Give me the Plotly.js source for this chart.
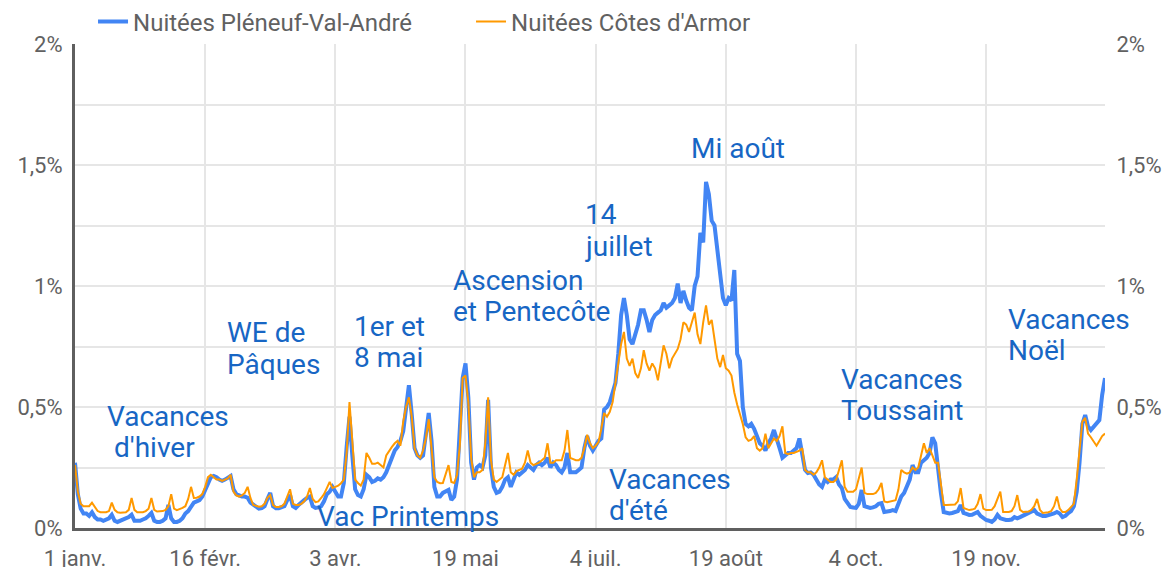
<!DOCTYPE html>
<html>
<head>
<meta charset="utf-8">
<script src="https://cdn.plot.ly/plotly-3.0.1.min.js"></script>
<style>
  html, body { margin: 0; padding: 0; background: #ffffff; }
  #chart { width: 1168px; height: 567px; }
</style>
</head>
<body>
<div id="chart"></div>
<script>
// Daily share of yearly overnight stays (%), starting 1 January
const startDate = "2019-01-01";

const pleneuf = [
  0.27,0.14,0.08,0.06,0.06,0.05,0.065,
  0.045,0.035,0.035,0.03,0.035,0.04,0.055,
  0.03,0.025,0.03,0.035,0.04,0.045,0.055,
  0.03,0.03,0.03,0.035,0.04,0.05,0.062,
  0.03,0.025,0.025,0.03,0.04,0.095,0.04,
  0.025,0.025,0.03,0.04,0.06,0.07,0.09,
  0.105,0.11,0.115,0.13,0.157,0.19,0.21,
  0.215,0.21,0.2,0.195,0.2,0.21,0.215,
  0.16,0.14,0.135,0.13,0.13,0.125,0.105,
  0.095,0.085,0.08,0.082,0.09,0.12,0.145,
  0.09,0.082,0.082,0.085,0.09,0.115,0.136,
  0.09,0.083,0.095,0.107,0.115,0.124,0.13,
  0.09,0.083,0.085,0.09,0.11,0.14,0.15,
  0.17,0.15,0.13,0.13,0.186,0.335,0.46,
  0.3,0.16,0.136,0.13,0.16,0.22,0.21,
  0.19,0.195,0.205,0.2,0.21,0.23,0.26,
  0.29,0.32,0.335,0.36,0.4,0.5,0.59,
  0.47,0.33,0.3,0.29,0.3,0.38,0.475,
  0.36,0.17,0.13,0.13,0.145,0.15,0.157,
  0.116,0.13,0.2,0.4,0.62,0.68,0.54,
  0.27,0.2,0.25,0.26,0.25,0.3,0.53,
  0.25,0.17,0.145,0.15,0.17,0.2,0.21,
  0.17,0.2,0.23,0.22,0.23,0.24,0.26,
  0.25,0.24,0.26,0.27,0.26,0.27,0.29,
  0.25,0.27,0.26,0.24,0.23,0.25,0.31,
  0.23,0.23,0.23,0.24,0.25,0.33,0.38,
  0.34,0.32,0.34,0.36,0.37,0.49,0.5,
  0.52,0.56,0.6,0.72,0.88,0.95,0.88,
  0.78,0.76,0.8,0.84,0.9,0.9,0.86,
  0.81,0.86,0.88,0.89,0.9,0.93,0.91,
  0.92,0.93,0.95,1.01,0.93,0.98,0.94,
  0.91,0.9,1.0,1.04,1.22,1.18,1.43,
  1.38,1.27,1.25,1.16,1.05,0.95,0.92,
  0.95,0.94,1.066,0.72,0.69,0.5,0.43,
  0.42,0.43,0.41,0.38,0.35,0.34,0.32,
  0.35,0.37,0.405,0.36,0.33,0.29,0.3,
  0.31,0.31,0.32,0.33,0.37,0.3,0.24,
  0.227,0.23,0.22,0.2,0.18,0.17,0.2,
  0.19,0.2,0.2,0.21,0.18,0.165,0.12,
  0.1,0.087,0.085,0.083,0.1,0.157,0.09,
  0.087,0.083,0.085,0.09,0.1,0.103,0.066,
  0.066,0.07,0.074,0.07,0.1,0.13,0.145,
  0.17,0.2,0.26,0.23,0.23,0.27,0.28,
  0.29,0.31,0.375,0.35,0.24,0.145,0.066,
  0.062,0.06,0.062,0.065,0.07,0.095,0.062,
  0.058,0.054,0.055,0.06,0.066,0.05,0.04,
  0.033,0.03,0.025,0.035,0.054,0.04,0.035,
  0.033,0.033,0.035,0.045,0.04,0.045,0.05,
  0.055,0.06,0.065,0.074,0.06,0.054,0.05,
  0.05,0.052,0.054,0.06,0.066,0.06,0.045,
  0.05,0.062,0.07,0.09,0.15,0.27,0.43,
  0.467,0.42,0.405,0.42,0.43,0.446,0.55,
  0.62
];

const cotesArmor = [
  0.26,0.15,0.10,0.09,0.09,0.09,0.105,
  0.085,0.07,0.065,0.065,0.065,0.07,0.105,
  0.075,0.065,0.063,0.063,0.065,0.075,0.124,
  0.075,0.065,0.065,0.065,0.07,0.08,0.124,
  0.075,0.068,0.068,0.07,0.075,0.09,0.14,
  0.08,0.074,0.078,0.083,0.09,0.12,0.17,
  0.124,0.125,0.13,0.14,0.17,0.21,0.22,
  0.21,0.2,0.2,0.195,0.2,0.205,0.22,
  0.15,0.135,0.13,0.135,0.145,0.17,0.124,
  0.095,0.09,0.088,0.09,0.1,0.125,0.136,
  0.095,0.087,0.087,0.09,0.1,0.13,0.16,
  0.1,0.095,0.095,0.1,0.11,0.13,0.165,
  0.12,0.107,0.11,0.124,0.14,0.165,0.19,
  0.165,0.17,0.175,0.185,0.2,0.31,0.52,
  0.36,0.2,0.186,0.175,0.2,0.31,0.29,
  0.265,0.265,0.27,0.26,0.25,0.3,0.32,
  0.335,0.35,0.36,0.34,0.44,0.5,0.54,
  0.46,0.33,0.3,0.29,0.32,0.37,0.45,
  0.32,0.21,0.19,0.185,0.186,0.22,0.26,
  0.19,0.186,0.22,0.34,0.62,0.63,0.52,
  0.29,0.21,0.23,0.23,0.24,0.35,0.54,
  0.28,0.2,0.19,0.2,0.21,0.26,0.31,
  0.23,0.22,0.235,0.24,0.245,0.27,0.32,
  0.27,0.26,0.265,0.27,0.28,0.29,0.35,
  0.27,0.27,0.28,0.28,0.28,0.32,0.405,
  0.29,0.285,0.28,0.28,0.29,0.33,0.385,
  0.35,0.33,0.34,0.355,0.41,0.475,0.46,
  0.48,0.52,0.6,0.68,0.76,0.81,0.7,
  0.67,0.7,0.64,0.62,0.66,0.735,0.68,
  0.65,0.68,0.66,0.61,0.68,0.755,0.72,
  0.66,0.7,0.72,0.74,0.78,0.85,0.84,
  0.81,0.85,0.89,0.8,0.76,0.85,0.92,
  0.84,0.86,0.78,0.7,0.665,0.715,0.66,
  0.65,0.63,0.56,0.51,0.47,0.43,0.375,
  0.36,0.365,0.38,0.33,0.32,0.33,0.39,
  0.33,0.35,0.37,0.36,0.38,0.42,0.31,
  0.305,0.31,0.31,0.315,0.32,0.33,0.24,
  0.23,0.23,0.22,0.23,0.25,0.28,0.21,
  0.2,0.19,0.19,0.2,0.24,0.28,0.17,
  0.15,0.15,0.15,0.16,0.2,0.25,0.145,
  0.14,0.14,0.14,0.145,0.16,0.186,0.11,
  0.107,0.11,0.11,0.115,0.16,0.24,0.23,
  0.225,0.23,0.25,0.24,0.25,0.3,0.35,
  0.31,0.33,0.3,0.27,0.27,0.186,0.095,
  0.095,0.095,0.095,0.097,0.11,0.165,0.083,
  0.078,0.074,0.076,0.08,0.1,0.14,0.08,
  0.074,0.074,0.075,0.09,0.12,0.15,0.066,
  0.066,0.066,0.07,0.09,0.136,0.075,0.066,
  0.066,0.068,0.075,0.09,0.12,0.075,0.062,
  0.062,0.065,0.07,0.09,0.13,0.08,0.066,
  0.066,0.074,0.085,0.1,0.2,0.33,0.44,
  0.455,0.39,0.375,0.36,0.34,0.36,0.38,
  0.39
];

const xTickDates = ["2019-01-01","2019-02-16","2019-04-03","2019-05-19","2019-07-04","2019-08-19","2019-10-04","2019-11-19"];
const xTickLabels = ["1 janv.","16 févr.","3 avr.","19 mai","4 juil.","19 août","4 oct.","19 nov."];
const yTickVals = [0,0.25,0.5,0.75,1,1.25,1.5,1.75,2];
const yTickLabels = ["0%","","0,5%","","1%","","1,5%","","2%"];

// dates for each daily value
const dates = pleneuf.map(function (_, i) {
  const d = new Date(startDate + "T00:00:00Z");
  d.setUTCDate(d.getUTCDate() + i);
  return d.toISOString().slice(0, 10);
});

const tickGray = "#616161";
const annColor = "#1766c4";
const font = "Roboto, Arial, sans-serif";

const traces = [
  {
    x: dates, y: pleneuf, type: "scatter", mode: "lines",
    name: "Nuitées Pléneuf-Val-André",
    line: { color: "#4285f4", width: 4 },
    xaxis: "x", yaxis: "y"
  },
  {
    x: dates, y: cotesArmor, type: "scatter", mode: "lines",
    name: "Nuitées Côtes d'Armor",
    line: { color: "#ff9900", width: 2 },
    xaxis: "x", yaxis: "y2"
  }
];

function ann(text, x, y) {
  return {
    text: text, x: x, y: y, xref: "x", yref: "y",
    xanchor: "left", yanchor: "middle", align: "left",
    xshift: -3,
    showarrow: false,
    font: { family: font, size: 28, color: annColor }
  };
}

const layout = {
  width: 1168, height: 567,
  margin: { l: 75, r: 63, t: 44, b: 39, pad: 0, autoexpand: false },
  paper_bgcolor: "#ffffff", plot_bgcolor: "#ffffff",
  font: { family: font, size: 22, color: tickGray },
  showlegend: true,
  legend: {
    orientation: "h", x: 0.0175, xanchor: "left", y: 1.0455, yanchor: "middle",
    font: { family: font, size: 24, color: tickGray },
    entrywidth: 333, entrywidthmode: "pixels",
    bgcolor: "rgba(0,0,0,0)"
  },
  xaxis: {
    type: "date",
    range: ["2019-01-01", "2019-12-31"],
    tickmode: "array", tickvals: xTickDates, ticktext: xTickLabels,
    showgrid: true, gridcolor: "#e6e6e6", gridwidth: 2,
    showline: true, linecolor: "#5f5f5f", linewidth: 2.5,
    ticks: "outside", ticklen: 9, tickcolor: "rgba(0,0,0,0)",
    tickfont: { family: font, size: 22, color: tickGray },
    zeroline: false, fixedrange: true
  },
  yaxis: {
    range: [0, 2],
    tickmode: "array", tickvals: yTickVals, ticktext: yTickLabels,
    showgrid: true, gridcolor: "#e6e6e6", gridwidth: 2,
    showline: true, linecolor: "#5f5f5f", linewidth: 3,
    ticks: "outside", ticklen: 5, tickcolor: "rgba(0,0,0,0)",
    tickfont: { family: font, size: 22, color: tickGray },
    zeroline: false, fixedrange: true
  },
  yaxis2: {
    range: [0, 2], overlaying: "y", side: "right",
    tickmode: "array", tickvals: yTickVals, ticktext: yTickLabels,
    showgrid: false, showline: false, zeroline: false,
    ticks: "outside", ticklen: 6, tickcolor: "rgba(0,0,0,0)",
    tickfont: { family: font, size: 22, color: tickGray },
    fixedrange: true
  },
  annotations: [
    ann("Vacances", "2019-01-12 16:19", 0.4587),
    ann("d'hiver", "2019-01-15 03:40", 0.3306),
    ann("WE de", "2019-02-24 03:20", 0.8099),
    ann("Pâques", "2019-02-24 03:20", 0.6777),
    ann("1er et", "2019-04-10 02:00", 0.8347),
    ann("8 mai", "2019-04-10 02:00", 0.7066),
    ann("Ascension", "2019-05-14 18:15", 1.0207),
    ann("et Pentecôte", "2019-05-14 18:15", 0.8926),
    ann("14", "2019-06-30 11:15", 1.2975),
    ann("juillet", "2019-06-30 11:15", 1.1653),
    ann("Mi août", "2019-08-06 23:30", 1.5702),
    ann("Vacances", "2019-07-08 23:00", 0.2025),
    ann("d'été", "2019-07-08 23:00", 0.0744),
    ann("Vac Printemps", "2019-03-28 00:00", 0.0455),
    ann("Vacances", "2019-09-29 01:00", 0.6116),
    ann("Toussaint", "2019-09-29 01:00", 0.4876),
    ann("Vacances", "2019-11-27 03:40", 0.8636),
    ann("Noël", "2019-11-27 03:40", 0.7355)
  ]
};

Plotly.newPlot("chart", traces, layout, { displayModeBar: false, staticPlot: true });
</script>
</body>
</html>
